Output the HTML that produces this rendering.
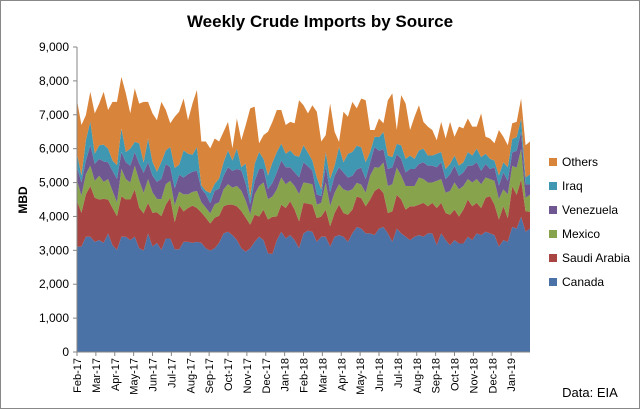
<!DOCTYPE html>
<html><head><meta charset="utf-8"><style>
body{margin:0;background:#fff;}
#wrap{position:relative;width:640px;height:409px;overflow:hidden;font-family:"Liberation Sans",sans-serif;}
</style></head><body>
<div id="wrap">
<svg id="chart" width="640" height="409" xmlns="http://www.w3.org/2000/svg">
<rect x="0.5" y="0.5" width="639" height="408" fill="#fff" stroke="#888"/>
<text x="320" y="27" text-anchor="middle" font-size="17" font-weight="bold" fill="#000">Weekly Crude Imports by Source</text>
<text transform="translate(27,200) rotate(-90)" text-anchor="middle" font-size="12" font-weight="bold">MBD</text>
<text x="590" y="397" text-anchor="middle" font-size="13">Data: EIA</text>
<g id="areas"></g><g id="axes"></g><g id="legend"></g>
</svg>
</div>
<script>
const seriesNames=["Canada","Saudi Arabia","Mexico","Venezuela","Iraq","Others"];
const colors=["#4a72a7","#a84442","#87a34b","#6f5892","#4097b1","#d9843b"];
const monthLabels=["Feb-17","Mar-17","Apr-17","May-17","Jun-17","Jul-17","Aug-17","Sep-17","Oct-17","Nov-17","Dec-17","Jan-18","Feb-18","Mar-18","Apr-18","May-18","Jun-18","Jul-18","Aug-18","Sep-18","Oct-18","Nov-18","Dec-18","Jan-19"];
const yTicks=[0,1000,2000,3000,4000,5000,6000,7000,8000,9000];
const canada=[3.11,3.11,3.40,3.40,3.25,3.30,3.22,3.50,3.15,3.01,3.40,3.40,3.30,3.40,3.06,2.99,3.50,3.11,3.22,3.01,3.35,3.35,3.03,3.03,3.25,3.25,3.22,3.25,3.22,3.06,2.99,3.06,3.22,3.50,3.55,3.45,3.30,3.06,2.96,3.06,3.25,3.40,3.30,2.91,2.89,3.30,3.55,3.35,3.45,3.30,3.06,3.50,3.58,
3.55,3.25,3.40,3.40,3.11,3.40,3.45,3.40,3.25,3.50,3.69,3.64,3.50,3.50,3.45,3.64,3.69,3.50,3.25,3.64,3.50,3.40,3.30,3.40,3.45,3.40,3.50,3.50,3.15,3.50,3.30,3.15,3.30,3.20,3.20,3.40,3.30,3.50,3.45,3.55,3.50,3.45,3.11,3.30,3.25,3.69,3.64,3.99,3.55,3.64];
const saudi=[1.35,1.0,1.25,1.5,1.3,1.2,1.3,1.0,1.1,1.0,1.2,1.1,1.2,1.4,1.2,1.1,0.9,1.0,0.9,1.0,1.0,1.2,0.8,1.3,0.9,1.0,1.1,1.0,0.9,0.9,0.8,0.9,0.8,0.8,0.8,0.9,1.0,1.1,1.0,0.7,0.8,0.6,0.9,1.0,1.1,0.7,0.8,0.9,1.0,0.9,0.8,0.9,0.8,
0.8,0.7,0.6,0.8,0.6,0.7,0.9,0.7,0.8,0.7,0.9,0.9,0.8,1.0,1.3,1.2,1.0,0.6,0.9,1.0,1.0,0.8,1.0,0.9,0.9,1.0,0.8,0.9,1.1,0.9,0.8,0.9,0.9,0.8,1.0,1.1,1.0,0.9,0.8,1.0,1.1,0.9,0.8,1.0,0.7,1.2,1.0,1.1,0.6,0.5];
const mexico=[0.6,0.5,0.6,0.6,0.5,0.7,0.5,0.6,0.5,0.4,0.8,0.6,0.5,0.7,0.8,0.6,0.7,0.6,0.4,0.5,0.6,0.5,0.5,0.4,0.5,0.4,0.4,0.5,0.3,0.3,0.3,0.4,0.4,0.5,0.6,0.5,0.6,0.6,0.5,0.3,0.6,0.9,0.8,0.6,0.6,0.8,0.8,0.7,0.6,0.7,0.8,0.6,0.6,
0.6,0.4,0.4,0.8,0.6,0.6,0.6,0.7,0.7,0.6,0.4,0.4,0.4,0.7,0.7,0.6,0.9,0.8,0.8,0.8,0.7,0.7,0.6,0.6,0.8,0.7,0.7,0.6,0.8,0.7,0.6,0.7,0.8,0.8,0.7,0.6,0.7,0.7,0.7,0.6,0.5,0.7,0.6,0.5,0.7,0.6,0.8,0.9,0.4,0.5];
const venezuela=[0.4,0.4,0.4,0.6,0.5,0.5,0.6,0.5,0.6,0.7,0.5,0.5,0.5,0.4,0.5,0.6,0.5,0.5,0.5,0.6,0.6,0.4,0.5,0.5,0.5,0.6,0.6,0.6,0.4,0.4,0.3,0.4,0.4,0.4,0.5,0.5,0.5,0.6,0.5,0.3,0.4,0.5,0.4,0.3,0.4,0.5,0.5,0.5,0.4,0.4,0.5,0.6,0.5,
0.4,0.3,0.2,0.5,0.4,0.5,0.5,0.5,0.4,0.4,0.4,0.5,0.4,0.4,0.6,0.5,0.4,0.5,0.5,0.4,0.5,0.4,0.5,0.5,0.4,0.5,0.5,0.5,0.4,0.5,0.4,0.5,0.5,0.4,0.4,0.4,0.5,0.5,0.4,0.4,0.3,0.4,0.4,0.5,0.4,0.4,0.5,0.5,0.4,0.3];
const iraq=[0.4,0.2,0.6,0.7,0.3,0.4,0.5,0.4,0.3,0.4,0.7,0.3,0.5,0.3,0.6,0.3,0.7,0.4,0.3,0.5,0.4,0.6,0.6,0.3,0.8,0.6,0.5,0.7,0.1,0.1,0.3,0.2,0.3,0.4,0.5,0.3,0.6,0.1,0.6,0.2,0.5,0.5,0.3,0.4,0.6,0.6,0.5,0.4,0.5,0.5,0.6,0.5,0.4,
0.3,0.5,0.2,0.4,0.4,0.3,0.6,0.3,0.7,0.7,0.7,0.6,0.5,0.3,0.3,0.4,0.5,0.4,0.3,0.3,0.4,0.4,0.4,0.3,0.4,0.4,0.3,0.3,0.4,0.3,0.3,0.3,0.3,0.3,0.3,0.4,0.3,0.4,0.4,0.3,0.3,0.2,0.3,0.3,0.4,0.4,0.4,0.4,0.2,0.3];
const totals=[7.43,6.70,6.99,7.68,7.04,7.33,7.68,7.14,7.38,7.38,8.12,7.63,7.04,7.78,7.33,7.38,7.38,7.04,6.84,7.38,7.14,6.75,6.94,7.09,7.48,6.84,7.33,7.73,6.21,6.21,6.01,6.30,6.21,6.50,6.79,6.01,6.89,6.25,6.70,7.19,7.24,6.16,6.40,6.50,6.79,7.14,7.14,6.70,6.79,6.75,7.43,7.28,7.04,
7.28,7.09,6.21,6.40,7.33,6.50,6.10,7.09,6.94,7.38,7.19,7.48,7.43,6.55,6.55,6.89,6.75,7.43,7.63,6.55,7.58,7.33,6.55,6.94,7.28,6.79,6.65,6.55,6.25,6.79,6.30,6.79,6.35,6.65,6.60,6.89,6.65,6.65,7.04,6.35,6.30,6.16,6.55,6.35,6.10,6.75,6.79,7.48,6.10,6.21];
const NS="http://www.w3.org/2000/svg";
const X0=77,X1=530,Y0=352,Y1=47,YMAX=9000;
const n=canada.length;
function xs(i){return X0+(X1-X0)*i/(n-1);}
function ys(v){return Y0-(Y0-Y1)*v/YMAX;}
const others=totals.map((t,i)=>Math.max(0.15,t-canada[i]-saudi[i]-mexico[i]-venezuela[i]-iraq[i]));
const series=[canada,saudi,mexico,venezuela,iraq,others];
const areas=document.getElementById('areas');
let base=new Array(n).fill(0);
series.forEach((s,k)=>{
  const top=base.map((b,i)=>b+s[i]*1000);
  let d="M"+xs(0)+","+ys(top[0]);
  for(let i=1;i<n;i++)d+="L"+xs(i).toFixed(2)+","+ys(top[i]).toFixed(2);
  for(let i=n-1;i>=0;i--)d+="L"+xs(i).toFixed(2)+","+ys(base[i]).toFixed(2);
  d+="Z";
  const p=document.createElementNS(NS,'path');
  p.setAttribute('d',d);p.setAttribute('fill',colors[k]);
  
  
  areas.appendChild(p);
  base=top;
});
const axes=document.getElementById('axes');
function add(tag,attrs,parent){const e=document.createElementNS(NS,tag);for(const a in attrs)e.setAttribute(a,attrs[a]);(parent||axes).appendChild(e);return e;}
const yl=add('line',{x1:X0,y1:Y1,x2:X0,y2:Y0,stroke:'#868686'});


const xl=add('line',{x1:X0,y1:Y0,x2:X1,y2:Y0,stroke:'#868686'});


yTicks.forEach(v=>{
  add('line',{x1:X0-4,y1:ys(v),x2:X0,y2:ys(v),stroke:'#868686'});
  const t=add('text',{x:X0-8,y:ys(v)+4,'text-anchor':'end','font-size':'12',fill:'#000'});
  t.textContent=v.toLocaleString('en-US');
  
  
});
const step=(X1-X0)/monthLabels.length;
monthLabels.forEach((m,i)=>{
  const x=X0+step*i;
  add('line',{x1:x,y1:Y0,x2:x,y2:Y0+4,stroke:'#868686'});
  const t=add('text',{transform:`translate(${x+4},${Y0+6}) rotate(-90)`,'text-anchor':'end','font-size':'11',fill:'#000'});
  t.textContent=m;
  
  
});
const legend=document.getElementById('legend');
for(let k=5;k>=0;k--){
  const y=162+(5-k)*24;
  const g=document.createElementNS(NS,'g');
  
  
  legend.appendChild(g);
  add('rect',{x:549,y:y-4,width:8,height:8,fill:colors[k]},g);
  const t=add('text',{x:562,y:y+4,'font-size':'12',fill:'#000'},g);
  t.textContent=seriesNames[k];
}
</script>
</body></html>
